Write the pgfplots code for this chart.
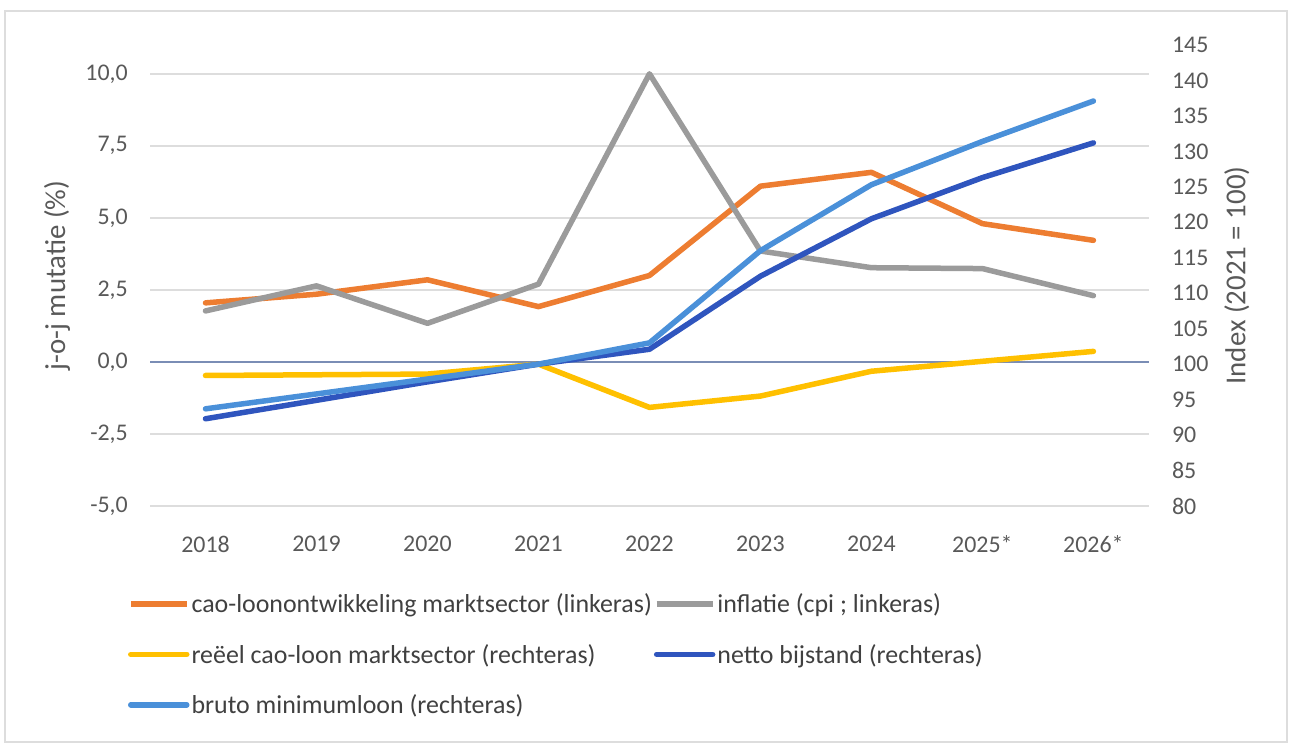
\documentclass[border=0pt]{standalone}
\usepackage{pgfplots}
\pgfplotsset{compat=1.18}
\usepackage{fontspec}
\setmainfont{Carlito}
\definecolor{corange}{HTML}{ED7D31}
\definecolor{cgray}{HTML}{9B9B9B}
\definecolor{cyellow}{HTML}{FFC000}
\definecolor{cdblue}{HTML}{2F55BE}
\definecolor{clblue}{HTML}{4A90D9}
\definecolor{cgrid}{HTML}{DDDDDD}
\definecolor{czero}{HTML}{7A8DB5}
\definecolor{ctext}{HTML}{595959}
\definecolor{cleg}{HTML}{404040}

\pgfplotsset{
  common/.style={
    scale only axis, width=999bp, height=461bp,
    at={(150bp,246bp)}, anchor=south west,
    xmin=-0.5, xmax=8.5,
    axis line style={draw=none},
    major tick length=0pt,
    tick label style={font=\fontsize{24}{28}\selectfont, text=ctext, inner sep=0pt},
    /pgf/number format/assume math mode=true,
    label style={font=\fontsize{29}{33}\selectfont, text=ctext},
  },
  dataline/.style={line width=5.5bp, line join=round, line cap=round},
}

\begin{document}
\begin{tikzpicture}[x=1bp,y=1bp]
\useasboundingbox (0,0) rectangle (1299,752);
\draw[color=cgrid, line width=2bp] (5,10) rectangle (1287,741);

\begin{axis}[common,
  ymin=-5, ymax=11,
  ytick={-5,-2.5,0,2.5,5,7.5,10},
  yticklabel style={anchor=east, xshift=-22bp,
    /pgf/number format/.cd, use comma, fixed, fixed zerofill, precision=1},
  ymajorgrids, grid style={cgrid, line width=1.5bp},
  extra y ticks={0}, extra y tick labels={},
  extra y tick style={grid style={czero, line width=1.8bp}},
  xtick={0,1,2,3,4,5,6,7,8},
  xticklabels={2018,2019,2020,2021,2022,2023,2024,2025*,2026*},
  xticklabel style={anchor=center, yshift=-38bp},
  ylabel={j-o-j mutatie (\%)},
  ylabel style={at={(axis description cs:-0.093,0.5)}, anchor=center, rotate=0},
]
\addplot[dataline, corange] coordinates {
 (0,2.05) (1,2.35) (2,2.85) (3,1.92) (4,3.0) (5,6.1) (6,6.58) (7,4.8) (8,4.22)};
\addplot[dataline, cgray] coordinates {
 (0,1.77) (1,2.64) (2,1.34) (3,2.7) (4,10.0) (5,3.85) (6,3.27) (7,3.24) (8,2.3)};
\end{axis}

\begin{axis}[common,
  ymin=80, ymax=145,
  ytick={80,85,...,145},
  yticklabel pos=right,
  yticklabel style={anchor=west, xshift=23bp},
  xtick=\empty,
  ylabel={Index (2021 = 100)},
  ylabel style={at={(axis description cs:1.088,0.5)}, anchor=center, rotate=0},
  legend columns=2,
  legend cell align=left,
  legend image code/.code={\draw[#1, line width=5.5bp] (0bp,0bp) -- (56bp,0bp);},
  legend style={at={(axis description cs:-0.022,-0.186)}, anchor=north west,
    draw=none, fill=none, inner sep=0pt, outer sep=0pt,
    font=\fontsize{26}{30}\selectfont, text=cleg,
    row sep=26bp, column sep=0bp,
    nodes={inner sep=2bp}},
]
\addlegendimage{corange}
\addlegendentry{cao-loonontwikkeling marktsector (linkeras)}
\addlegendimage{cgray}
\addlegendentry{inflatie (cpi ; linkeras)}
\addplot[dataline, cyellow] coordinates {
 (0,98.4) (1,98.5) (2,98.6) (3,100) (4,93.9) (5,95.5) (6,99.0) (7,100.4) (8,101.8)};
\addlegendentry{reëel cao-loon marktsector (rechteras)}
\addplot[dataline, cdblue] coordinates {
 (0,92.3) (1,94.9) (2,97.5) (3,100) (4,102.1) (5,112.4) (6,120.5) (7,126.3) (8,131.2)};
\addlegendentry{netto bijstand (rechteras)}
\addplot[dataline, clblue] coordinates {
 (0,93.7) (1,95.8) (2,97.9) (3,100) (4,103.0) (5,116.0) (6,125.3) (7,131.4) (8,137.1)};
\addlegendentry{bruto minimumloon (rechteras)}
\end{axis}
\end{tikzpicture}
\end{document}
